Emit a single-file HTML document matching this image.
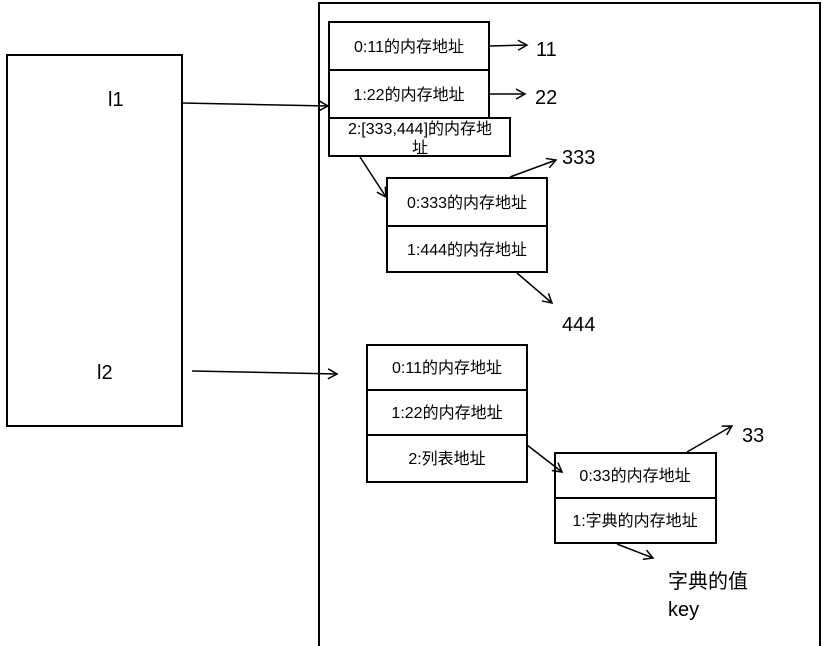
<!DOCTYPE html>
<html><head><meta charset="utf-8"><style>
html,body{margin:0;padding:0;background:#fff;}
svg{display:block;}
text{font-family:"Liberation Sans","Noto Sans CJK SC",sans-serif;fill:#000;}
</style></head><body>
<svg width="822" height="646" viewBox="0 0 822 646" xmlns="http://www.w3.org/2000/svg">
<defs><marker id="a" markerWidth="12" markerHeight="12" refX="10" refY="6" orient="auto" markerUnits="userSpaceOnUse"><path d="M1,1 L10,6 L1,11" fill="none" stroke="#000" stroke-width="1.5"/></marker></defs>
<g fill="none" stroke="#000" stroke-width="2">
<rect x="7" y="55" width="175" height="371"/>
<path d="M319,646 L319,3 L820,3 L820,646"/>
<rect x="329" y="22" width="160" height="48"/>
<rect x="329" y="70" width="160" height="48"/>
<rect x="329" y="118" width="181" height="38"/>
<rect x="387" y="178" width="160" height="48"/>
<rect x="387" y="226" width="160" height="46"/>
<rect x="367" y="345" width="160" height="45"/>
<rect x="367" y="390" width="160" height="45"/>
<rect x="367" y="435" width="160" height="47"/>
<rect x="555" y="453" width="161" height="45"/>
<rect x="555" y="498" width="161" height="45"/>
</g>
<g stroke="#000" stroke-width="1.5" fill="none" marker-end="url(#a)">
<line x1="182" y1="103" x2="328" y2="106"/>
<line x1="192" y1="371" x2="337" y2="374"/>
<line x1="489" y1="46" x2="527" y2="45"/>
<line x1="489" y1="94" x2="525" y2="94"/>
<line x1="360" y1="157" x2="386" y2="197"/>
<line x1="510" y1="177" x2="556" y2="160"/>
<line x1="517" y1="273" x2="552" y2="303"/>
<line x1="527" y1="445" x2="562" y2="472"/>
<line x1="687" y1="452" x2="732" y2="426"/>
<line x1="617" y1="544" x2="653" y2="558"/>
</g>
<g font-size="20">
<text x="108" y="106">l1</text>
<text x="97" y="379">l2</text>
<text x="536" y="56">11</text>
<text x="535" y="104">22</text>
<text x="562" y="164">333</text>
<text x="562" y="331">444</text>
<text x="742" y="442">33</text>
<text x="668" y="588">字典的值</text>
<text x="668" y="616">key</text>
</g>
<g font-size="16" text-anchor="middle">
<text x="409" y="52">0:11的内存地址</text>
<text x="409" y="100">1:22的内存地址</text>
<text x="420" y="134">2:[333,444]的内存地</text>
<text x="420" y="153">址</text>
<text x="467" y="208">0:333的内存地址</text>
<text x="467" y="255">1:444的内存地址</text>
<text x="447" y="373">0:11的内存地址</text>
<text x="447" y="418">1:22的内存地址</text>
<text x="447" y="464">2:列表地址</text>
<text x="635" y="481">0:33的内存地址</text>
<text x="635" y="526">1:字典的内存地址</text>
</g>
</svg>
</body></html>
